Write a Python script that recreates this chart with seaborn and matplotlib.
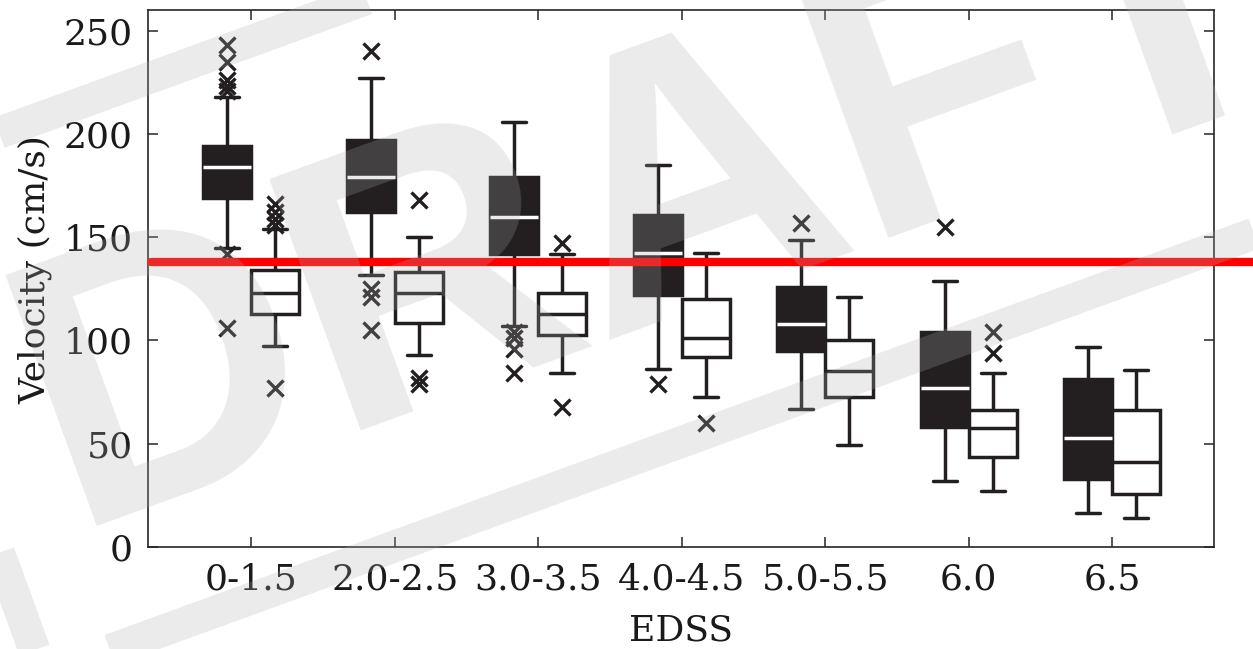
import matplotlib.pyplot as plt
import seaborn as sns
import pandas as pd
from matplotlib.patches import Rectangle
from matplotlib.transforms import Affine2D

sns.set_style("ticks")
plt.rcParams['font.family'] = ['DejaVu Serif']

groups = ['0-1.5', '2.0-2.5', '3.0-3.5', '4.0-4.5', '5.0-5.5', '6.0', '6.5']
kinds = ['dark', 'white']

# five-number summaries (whisker ends, quartiles, median)
dark_lo = [145, 131.5, 107, 86, 67, 32, 16.5]
dark_q1 = [169, 162, 142, 122, 95, 58, 33]
dark_med = [184, 179, 160, 142.5, 108, 77, 53]
dark_q3 = [194, 197, 179, 160.5, 126, 104, 81.5]
dark_hi = [218, 227, 206, 185, 148.5, 129, 97]
dark_out = [[243, 235, 226, 223, 221, 142, 106], [240, 125, 121, 105],
            [104, 101, 96, 84], [79], [157], [155], []]

white_lo = [97.5, 93, 84, 72.5, 49.5, 27, 14]
white_q1 = [113, 108.5, 102.5, 92, 72.5, 43.5, 25.5]
white_med = [123, 123, 113, 101, 85, 57.5, 41]
white_q3 = [134, 133, 123, 120, 100, 66.5, 66.5]
white_hi = [154, 150, 142, 142.5, 121, 84, 85.5]
white_out = [[166, 162, 159, 156, 77], [168, 82, 79], [147, 68], [60], [],
             [104, 94], []]

threshold = 138

DARK = '#231f20'

# seaborn computes the box stats itself, so each summary is written out as
# weighted values: quartiles land on q1/med/q3, the 5/95 percentiles on the
# whisker ends, and the outliers fall outside them.
rows = []
series = [('dark', dark_lo, dark_q1, dark_med, dark_q3, dark_hi, dark_out),
          ('white', white_lo, white_q1, white_med, white_q3, white_hi, white_out)]
for kind, lo, q1, med, q3, hi, out in series:
    for g, a, b, c, d, e, o in zip(groups, lo, q1, med, q3, hi, out):
        vals = [a] * 20 + [b] * 40 + [c] * 40 + [d] * 40 + [e] * 20 + o
        rows += [(g, kind, v) for v in vals]
df = pd.DataFrame(rows, columns=['EDSS', 'kind', 'Velocity'])

fig = plt.figure(figsize=(12.53, 6.49), dpi=100)
ax = fig.add_axes([0.1181, 0.1572, 0.8508, 0.8274])

sns.boxplot(data=df, x='EDSS', y='Velocity', hue='kind', order=groups,
            hue_order=kinds, palette={'dark': DARK, 'white': 'white'},
            saturation=1, width=0.67, whis=(5, 95), linecolor=DARK,
            linewidth=2.5, legend=False, ax=ax,
            flierprops=dict(marker='x', markersize=11, markeredgewidth=2.4,
                            markeredgecolor=DARK))
for m in ax.containers[0].medians:
    m.set_color('white')

ax.axhline(threshold, xmin=0.003, xmax=1.04, color='#ff0000', lw=6,
           clip_on=False, zorder=6)

ax.set_xlim(-0.72, 6.71)
ax.set_ylim(0, 260)
ax.set_yticks([0, 50, 100, 150, 200, 250])
ax.tick_params(direction='in', length=7, width=1.1, top=True, right=True,
               labelsize=26, colors='#262626', labelcolor='#1a1a1a')
ax.tick_params(axis='y', pad=11)
ax.tick_params(axis='x', pad=11)
for s in ax.spines.values():
    s.set_color('#262626')
    s.set_linewidth(1.2)

ax.set_xlabel('EDSS', fontsize=26, color='#1a1a1a')
ax.set_ylabel('Velocity (cm/s)', fontsize=26, color='#1a1a1a')
ax.xaxis.set_label_coords(0.5, -0.124)
ax.yaxis.set_label_coords(-0.09, 0.516)

# DRAFT watermark on top of everything
wm_col = '#adadad'
fig.text(0.5507, 0.5378, 'DRAFT', rotation=20, rotation_mode='anchor',
         ha='center', va='baseline', fontsize=280, fontweight='bold',
         family='Liberation Sans', color=wm_col, alpha=0.245, zorder=10)
cx, cy = 6.49, 4.74
frame = Rectangle((cx - 7.4, cy - 2.62), 14.8, 5.24, fill=False, ec=wm_col,
                  alpha=0.245, lw=23,
                  transform=Affine2D().rotate_deg_around(cx, cy, 20) + fig.dpi_scale_trans,
                  zorder=10)
fig.add_artist(frame)

fig.savefig('out.png', dpi=100)
